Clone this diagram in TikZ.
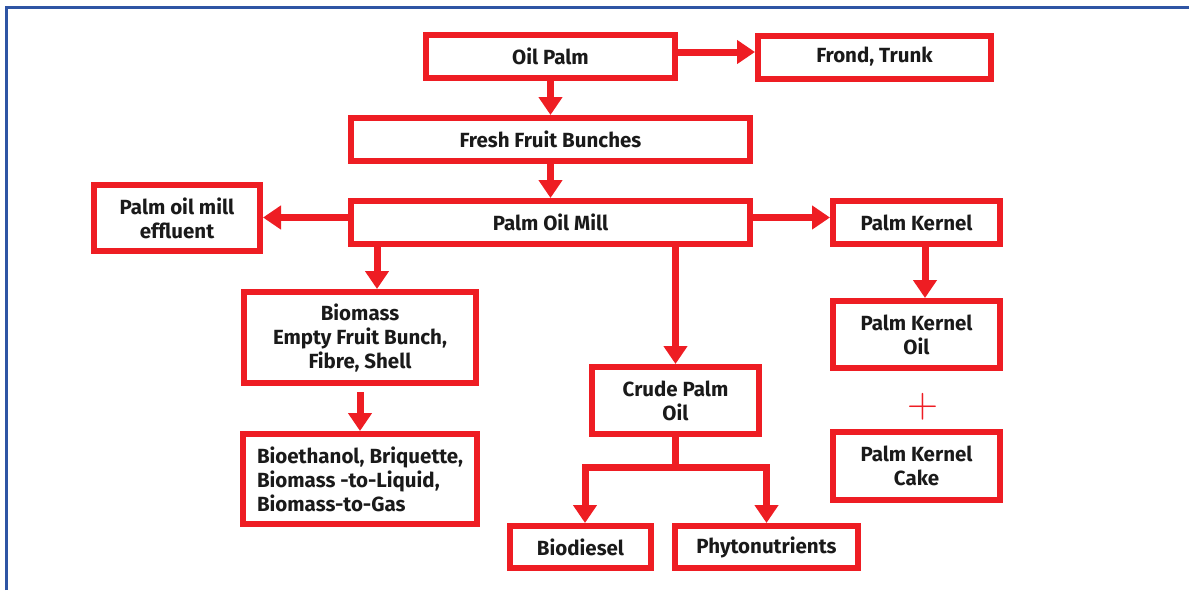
\documentclass[tikz,border=0pt]{standalone}
\usepackage{fontspec}
\setsansfont{Fira Sans}
\usetikzlibrary{arrows.meta}
\definecolor{boxred}{HTML}{EE1D23}
\definecolor{frameblue}{HTML}{2F55A4}
\definecolor{ink}{HTML}{1A1A1A}
\begin{document}
\begin{tikzpicture}[x=1pt,y=-1pt,
  box/.style={draw=boxred, line width=6pt, fill=white, inner sep=0pt,
    font=\sffamily\bfseries\fontsize{20.5}{24}\selectfont, align=center, text=ink},
  arr/.style={draw=boxred, line width=7pt, -{Triangle[length=18pt,width=23pt]}},
  plus/.style={text=boxred, inner sep=0pt, font=\rmfamily\fontsize{43}{43}\selectfont},
]
\useasboundingbox (0,0) rectangle (1189,590);
\draw[frameblue, line width=2.5pt] (6.5,590) -- (6.5,7.5) -- (1189,7.5);

\node[box, minimum width=249pt, minimum height=43pt] (oil) at (550.5,56.5) {Oil Palm};
\node[box, minimum width=233pt, minimum height=43pt] (frond) at (874.5,57) {Frond, Trunk};
\node[box, minimum width=399pt, minimum height=43pt] (ffb) at (550.5,139.5) {Fresh Fruit Bunches};
\node[box, minimum width=399pt, minimum height=43pt] (pom) at (550.5,222.5) {Palm Oil Mill};
\node[box, minimum width=166pt, minimum height=66pt] (pome) at (177,218) {Palm oil mill\\effluent};
\node[box, minimum width=167pt, minimum height=43pt] (pk) at (916.5,222.5) {Palm Kernel};
\node[box, minimum width=232pt, minimum height=91pt] (bio) at (360,337.5) {Biomass\\Empty Fruit Bunch,\\Fibre, Shell};
\node[box, minimum width=234pt, minimum height=90pt, align=left] (bioeth) at (360,479) {Bioethanol, Briquette,\\Biomass -to-Liquid,\\Biomass-to-Gas};
\node[box, minimum width=167pt, minimum height=67pt] (cpo) at (675.5,400.5) {Crude Palm\\Oil};
\node[box, minimum width=167pt, minimum height=67pt] (pko) at (916.5,334.5) {Palm Kernel\\Oil};
\node[plus] (plus) at (923,407) {+};
\node[box, minimum width=167pt, minimum height=68pt] (pkc) at (916.5,466) {Palm Kernel\\Cake};
\node[box, minimum width=141pt, minimum height=42pt] (biod) at (580.5,547) {Biodiesel};
\node[box, minimum width=183pt, minimum height=42pt] (phyto) at (766.5,547) {Phytonutrients};

\draw[arr] (oil.south) -- (ffb.north);
\draw[arr] (oil.east |- 0,52) -- (frond.west |- 0,52);
\draw[arr] (ffb.south) -- (pom.north);
\draw[arr] (pom.west |- 0,217.5) -- (pome.east |- 0,217.5);
\draw[arr] (pom.east |- 0,217.5) -- (pk.west |- 0,217.5);
\draw[arr] (pom.south -| 377,0) -- (bio.north -| 377,0);
\draw[arr] (pom.south -| cpo.north) -- (cpo.north);
\draw[arr] ([yshift=-6pt]bio.south) -- (bioeth.north);
\draw[arr] (pk.south -| 925,0) -- (pko.north -| 925,0);
\coordinate (split) at (675.5,467);
\draw[arr] (cpo.south) -- (split) -| (biod.north -| 585,0);
\draw[arr] (split) -| (phyto.north);
\end{tikzpicture}
\end{document}
